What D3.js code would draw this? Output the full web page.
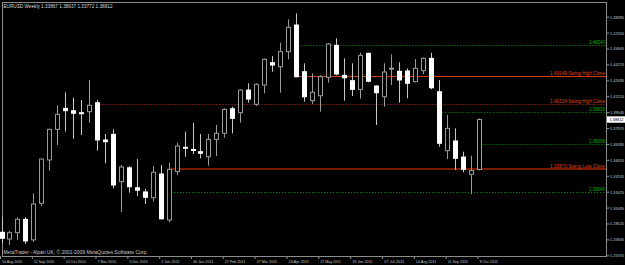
<!DOCTYPE html>
<html><head><meta charset="utf-8">
<script src="https://cdn.jsdelivr.net/npm/d3@7/dist/d3.min.js"></script>
<style>
html,body{margin:0;padding:0;background:#000;overflow:hidden}
svg{display:block}
text{font-family:"Liberation Sans",Arial,sans-serif}
</style></head><body>
<svg id="c" width="625" height="265"></svg>
<script>
const weeks = ["2010-08-16","2010-08-23","2010-08-30","2010-09-06","2010-09-13","2010-09-20","2010-09-27","2010-10-04","2010-10-11","2010-10-18","2010-10-25","2010-11-01","2010-11-08","2010-11-15","2010-11-22","2010-11-29","2010-12-06","2010-12-13","2010-12-20","2010-12-27",
"2011-01-03","2011-01-10","2011-01-17","2011-01-24","2011-01-31","2011-02-07","2011-02-14","2011-02-21","2011-02-28","2011-03-07","2011-03-14","2011-03-21","2011-03-28","2011-04-04","2011-04-11","2011-04-18","2011-04-25","2011-05-02","2011-05-09","2011-05-16","2011-05-23","2011-05-30","2011-06-06","2011-06-13","2011-06-20","2011-06-27","2011-07-04","2011-07-11","2011-07-18","2011-07-25","2011-08-01","2011-08-08","2011-08-15","2011-08-22","2011-08-29","2011-09-05","2011-09-12","2011-09-19","2011-09-26","2011-10-03","2011-10-10"];
const opens  = [1.2765,1.2698,1.2761,1.2893,1.2690,1.3052,1.3481,1.3784,1.3992,1.3969,1.3949,1.3959,1.4048,1.3679,1.3735,1.3266,1.3404,1.3206,1.3164,1.3107,1.3342,1.2887,1.3365,1.3606,1.3585,1.3563,1.3513,1.3685,1.3745,1.3988,1.3949,1.4173,1.4032,1.4223,1.4444,1.4404,1.4553,1.4817,1.4355,1.4068,1.4117,1.4299,1.4616,1.4319,1.4266,1.4180,1.4537,1.4213,1.4107,1.4388,1.4359,1.4362,1.4256,1.4365,1.4487,1.4157,1.3573,1.3669,1.3510,1.3339,1.33867];
const highs  = [1.2919,1.2778,1.2913,1.2913,1.3151,1.3495,1.3790,1.4022,1.4151,1.4097,1.4075,1.4273,1.4075,1.3738,1.3784,1.3431,1.3421,1.3490,1.3196,1.3421,1.3431,1.3454,1.3650,1.3761,1.3850,1.3738,1.3738,1.3827,1.3992,1.4008,1.4180,1.4240,1.4240,1.4487,1.4510,1.4642,1.4873,1.4933,1.4438,1.4339,1.4320,1.4640,1.4685,1.4487,1.4438,1.4543,1.4543,1.4220,1.4438,1.4527,1.4448,1.4388,1.4480,1.4497,1.4543,1.4273,1.3926,1.3794,1.3563,1.3523,1.38937];
const lows   = [1.2660,1.2640,1.2690,1.2649,1.2670,1.3025,1.3375,1.3629,1.3761,1.3691,1.3728,1.3850,1.3574,1.3448,1.3200,1.2966,1.3157,1.3124,1.3045,1.3068,1.2890,1.2864,1.3330,1.3513,1.3540,1.3497,1.3424,1.3520,1.3701,1.3745,1.3850,1.4048,1.4015,1.4141,1.4355,1.4147,1.4477,1.4300,1.4058,1.4035,1.3959,1.4246,1.4320,1.4068,1.4114,1.4087,1.4250,1.3827,1.4008,1.4223,1.4048,1.4091,1.4250,1.4330,1.4180,1.3612,1.3490,1.3382,1.3359,1.3141,1.33772];
const closes = [1.2705,1.2761,1.2893,1.2679,1.3045,1.3490,1.3784,1.3933,1.3969,1.3943,1.3939,1.4022,1.3679,1.3662,1.3233,1.3411,1.3216,1.3181,1.3111,1.3359,1.2899,1.3388,1.3619,1.3599,1.3580,1.3547,1.3685,1.3745,1.3982,1.3893,1.4173,1.4084,1.4230,1.4477,1.4421,1.4553,1.4794,1.4305,1.4107,1.4151,1.4305,1.4629,1.4332,1.4295,1.4180,1.4517,1.4260,1.4147,1.4352,1.4390,1.4273,1.4240,1.4388,1.4487,1.4196,1.3646,1.3794,1.3497,1.3388,1.3375,1.38812];

const tickWeeks  = ["2010-08-16","2010-09-13","2010-10-11","2010-11-08","2010-12-06","2011-01-03","2011-01-31","2011-02-28","2011-03-28","2011-04-25","2011-05-23","2011-06-20","2011-07-18","2011-08-15","2011-09-12","2011-10-10"];
const tickLabels = ["16 Aug 2010","12 Sep 2010","10 Oct 2010","7 Nov 2010","5 Dec 2010","2 Jan 2011","30 Jan 2011","27 Feb 2011","27 Mar 2011","24 Apr 2011","22 May 2011","19 Jun 2011","17 Jul 2011","14 Aug 2011","11 Sep 2011","9 Oct 2011"];
const priceTicks = ["1.48995","1.47420","1.45845","1.44270","1.42695","1.41120","1.39545","1.37970","1.36395","1.34820","1.33245","1.31670","1.30095","1.28520","1.26945","1.25370"];

const levelPrices = [1.46240, 1.43149, 1.40314, 1.39530, 1.36398, 1.33871, 1.31640];
const levelTexts  = ["1.46240","1.43149  Swing High Close","1.40314  Swing High Close","1.39530","1.36398","1.33871  Swing Low Close","1.31640"];
const levelKinds  = ["target","swingHigh","swingHighOld","target","target","swingLow","target"];
const levelStart  = ["2011-05-02","2011-05-02","2010-11-08","2011-09-05","2011-10-10","2011-01-10","2011-01-10"];

const titleText = "EURUSD,Weekly  1.33867 1.38937 1.33772 1.38812";
const copyText = "MetaTrader - Alpari UK, \u00A9 2001-2009 MetaQuotes Software Corp.";
const lastPrice = 1.38812;

const svg = d3.select("#c");
const W = 625, H = 265;
const L = 2, R = 606, T = 2, B = 256;
svg.append("rect").attr("width",W).attr("height",H).attr("fill","#000");

const x = d3.scalePoint().domain(weeks).range([1.5, 479]);
const y = d3.scaleLinear().domain([1.25370, 1.48995]).range([255.3, 16.7]);

const styles = {
  target:{color:"#00a000", width:1, dash:"1,2", text:"#00b400"},
  swingHigh:{color:"#d83a10", width:1.2, dash:null, text:"#e0401a"},
  swingHighOld:{color:"#c83010", width:1, dash:"1,2", text:"#e0401a"},
  swingLow:{color:"#7a1a00", width:2, dash:null, text:"#e0401a"}
};

// frame
svg.append("rect").attr("x",L+0.5).attr("y",T+0.5).attr("width",R-L).attr("height",B-T)
  .attr("fill","none").attr("stroke","#8c8c8c").attr("stroke-width",1);

// levels
const lv = svg.append("g");
levelPrices.forEach((p,i)=>{
  const s = styles[levelKinds[i]];
  const yy = Math.round(y(p)) + (s.width===2?0:0.5);
  lv.append("line").attr("x1", x(levelStart[i]) + 2.5).attr("x2", R).attr("y1", yy).attr("y2", yy)
    .attr("stroke", s.color).attr("stroke-width", s.width).attr("stroke-dasharray", s.dash);
  const t = lv.append("text").attr("x", R-1).attr("y", yy-1.2).attr("text-anchor","end")
    .attr("font-size",5).attr("fill", s.text).text(levelTexts[i]);
  t.attr("textLength", levelTexts[i].length > 8 ? 55 : 16).attr("lengthAdjust","spacingAndGlyphs");
});

// candles
const g = svg.append("g");
weeks.forEach((w,i)=>{
  const cx = Math.round(x(w));
  const o = opens[i], c = closes[i];
  const up = c >= o;
  g.append("line").attr("x1",cx+0.5).attr("x2",cx+0.5)
    .attr("y1",y(highs[i])).attr("y2",y(lows[i]))
    .attr("stroke", up ? "#9a9a9a" : "#c8c8c8").attr("stroke-width",1);
  const yt = y(Math.max(o,c)), yb = y(Math.min(o,c));
  const h = Math.max(1, yb-yt);
  if (up) {
    g.append("rect").attr("x",cx-1.5).attr("y",yt).attr("width",4).attr("height",h)
      .attr("fill","#000").attr("stroke","#9a9a9a").attr("stroke-width",1);
  } else {
    g.append("rect").attr("x",cx-2).attr("y",yt-0.5).attr("width",5).attr("height",h+1)
      .attr("fill","#fff");
  }
});

// price axis
const yAxis = d3.axisRight(y).tickValues(priceTicks.map(Number)).tickFormat(d3.format(".5f")).tickSize(3).tickPadding(0.5);
const ya = svg.append("g").attr("transform",`translate(${R+0.5},0)`).call(yAxis);
ya.select(".domain").remove();
ya.selectAll("line").attr("stroke","#8c8c8c");
ya.selectAll("text").attr("fill","#c8c8c8").attr("font-size",4.4).attr("font-family","Liberation Sans, Arial, sans-serif")
  .attr("textLength",14).attr("lengthAdjust","spacingAndGlyphs");

// current price box
const cy = y(lastPrice);
svg.append("rect").attr("x",R+1).attr("y",cy-3.2).attr("width",18).attr("height",6.4).attr("fill","#fff");
svg.append("text").attr("x",R+3.5).attr("y",cy+1.7).attr("font-size",4.4).attr("fill","#000")
  .attr("textLength",14).attr("lengthAdjust","spacingAndGlyphs").text(d3.format(".5f")(lastPrice));

// date axis
const lblMap = new Map(tickWeeks.map((d,i)=>[d,tickLabels[i]]));
const xAxis = d3.axisBottom(x).tickValues(tickWeeks).tickFormat(d=>lblMap.get(d)).tickSize(3).tickPadding(0);
const xa = svg.append("g").attr("transform",`translate(-2,${B})`).call(xAxis);
xa.select(".domain").remove();
xa.selectAll("line").attr("stroke","#8c8c8c").attr("transform","translate(0.5,0)");
xa.selectAll("text").attr("fill","#c8c8c8").attr("font-size",4.4).attr("text-anchor","start")
  .attr("dx",2).attr("dy","0").attr("y",6.5).attr("font-family","Liberation Sans, Arial, sans-serif")
  .attr("textLength", d => lblMap.get(d).length * 1.85).attr("lengthAdjust","spacingAndGlyphs");

// texts
svg.append("text").attr("x",3.5).attr("y",7.6).attr("font-size",5).attr("fill","#d8d8d8")
  .attr("textLength",109).attr("lengthAdjust","spacingAndGlyphs").text(titleText);
svg.append("text").attr("x",3.5).attr("y",253.8).attr("font-size",4.8).attr("fill","#c8c8c8")
  .attr("textLength",144).attr("lengthAdjust","spacingAndGlyphs").text(copyText);
</script>
</body></html>
